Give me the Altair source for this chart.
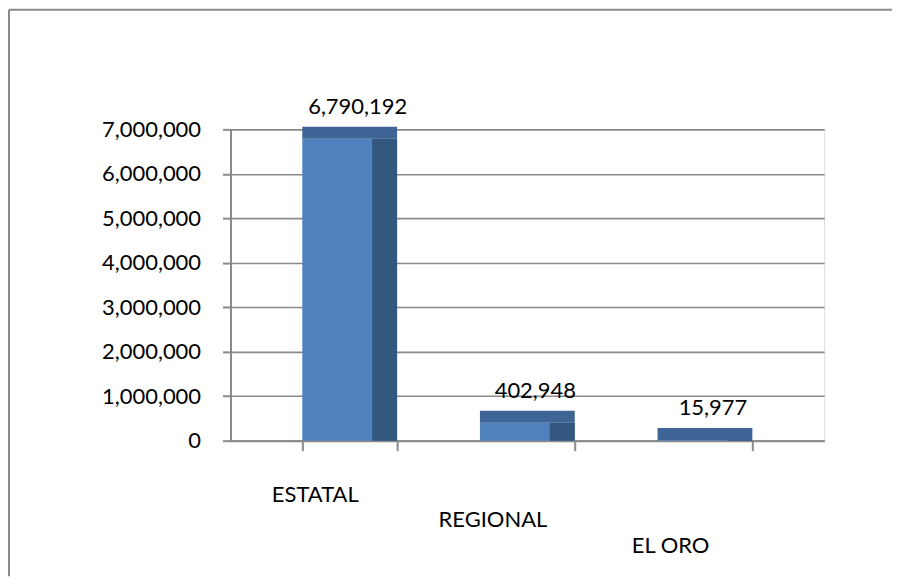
import altair as alt
import pandas as pd

categories = ["ESTATAL", "REGIONAL", "EL ORO"]
values = [6790192, 402948, 15977]
y_ticks = [0, 1000000, 2000000, 3000000, 4000000, 5000000, 6000000, 7000000]

df = pd.DataFrame({"cat": categories, "val": values})

FONT = "Lato"
GRAY = "#8a8a8a"
FRONT = "#4f81bd"
SIDE = "#34577f"
TOP = "#3e6595"

x_enc = alt.X(
    "cat:N",
    sort=categories,
    title=None,
    scale=alt.Scale(paddingInner=0.466, paddingOuter=0.404),
    axis=alt.Axis(
        labelAngle=0,
        tickBand="extent",
        tickSize=10,
        tickWidth=2,
        tickColor=GRAY,
        domainColor=GRAY,
        domainWidth=2,
        labelPadding={
            "condition": [
                {"test": "datum.value == 'REGIONAL'", "value": 59},
                {"test": "datum.value == 'EL ORO'", "value": 85},
            ],
            "value": 34,
        },
        labelOffset=-35,
        labelFont=FONT,
        labelFontSize=22,
        labelColor="#000000",
        grid=False,
    ),
)

y_enc = alt.Y(
    "val:Q",
    title=None,
    scale=alt.Scale(domain=[0, 7000000], nice=False),
    axis=alt.Axis(
        values=y_ticks,
        format=",.0f",
        tickSize=8,
        tickWidth=2,
        tickColor=GRAY,
        domainColor=GRAY,
        domainWidth=2,
        grid=True,
        gridColor=GRAY,
        gridWidth=1.6,
        labelPadding=22,
        labelFont=FONT,
        labelFontSize=22,
        labelColor="#000000",
    ),
)

base = alt.Chart(df)

front = base.mark_bar(color=FRONT, width=95)
side = base.mark_bar(color=SIDE, width=25, xOffset=35)
top = base.mark_tick(color=TOP, opacity=1, thickness=12, size=95, yOffset=-6)
labels = base.mark_text(
    font=FONT, fontSize=22, color="#000000", dy=-20, dx=8, baseline="bottom"
).encode(text=alt.Text("val:Q", format=","))

bars = alt.layer(front, side, top, labels).encode(x=x_enc, y=y_enc)

frame_data = alt.Data(values=[{"k": 1}])
top_border = alt.Chart(frame_data).mark_rule(color=GRAY, strokeWidth=2).encode(
    x=alt.value(-222), x2=alt.value(663), y=alt.value(-120)
)
left_border = alt.Chart(frame_data).mark_rule(color=GRAY, strokeWidth=2).encode(
    x=alt.value(-222), y=alt.value(-120), y2=alt.value(448)
)

chart = alt.layer(bars, top_border, left_border).properties(
    width=595, height=312, padding=0
).configure_view(stroke="transparent", strokeWidth=0).configure(background="#ffffff")

chart.save("out.html", embed_options={"renderer": "svg", "actions": False})
